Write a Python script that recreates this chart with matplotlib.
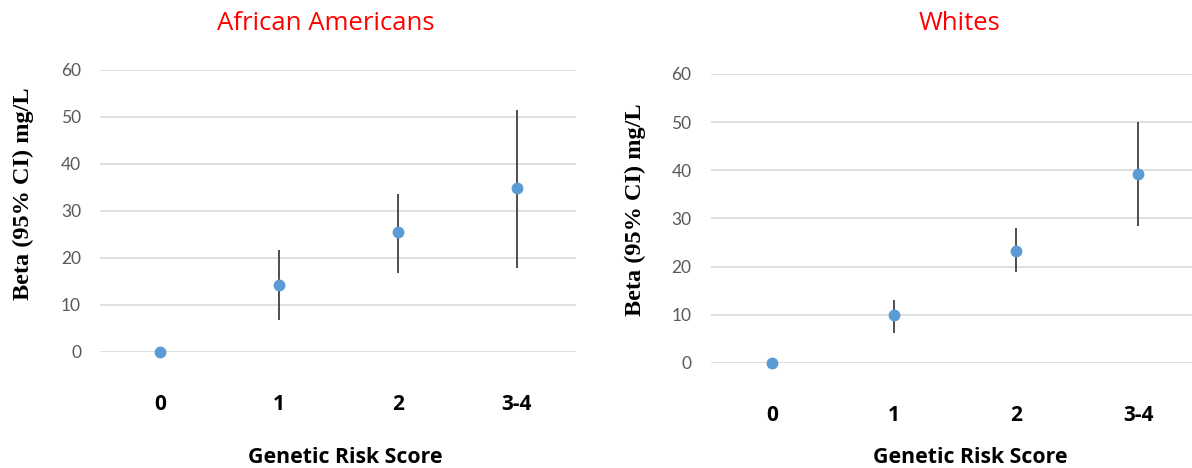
import matplotlib
matplotlib.use("Agg")
import matplotlib.pyplot as plt

categories = ['0', '1', '2', '3-4']

aa_beta = [0.0, 14.3, 25.5, 34.8]
aa_low = [0.0, 6.7, 16.9, 17.8]
aa_high = [0.0, 21.6, 33.6, 51.5]

wh_beta = [0.0, 10.0, 23.3, 39.3]
wh_low = [0.0, 6.3, 18.8, 28.5]
wh_high = [0.0, 13.1, 28.0, 50.0]

yticks = [0, 10, 20, 30, 40, 50, 60]

fig = plt.figure(figsize=(11.92, 4.68), dpi=100)


def panel(rect, beta, low, high, title, xmax, title_x, xlab_x):
    ax = fig.add_axes(rect)
    xs = [i + 0.5 for i in range(len(categories))]
    for s in ax.spines.values():
        s.set_visible(False)
    for t in yticks:
        ax.axhline(t, color='#d9d9d9', lw=1.2, zorder=0)
    ax.vlines(xs, low, high, color='#404040', lw=1.3, zorder=2)
    ax.plot(xs, beta, 'o', color='#5b9bd5', ms=7.5, zorder=3, clip_on=False)
    ax.set_xlim(0, xmax)
    ax.set_ylim(0, 60)
    ax.set_yticks(yticks)
    ax.set_yticklabels([str(t) for t in yticks], family='Lato', fontsize=12.5, color='#595959')
    ax.tick_params(axis='y', length=0, pad=14)
    ax.set_xticks(xs)
    ax.set_xticklabels(categories, family='Open Sans', fontsize=15, fontweight='bold', color='black')
    ax.tick_params(axis='x', length=0, pad=30)
    fig.text(title_x, 0.95, title, color='#ff0000', fontsize=18.5, family='Open Sans',
             ha='center', va='center')
    fig.text(xlab_x, 0.022, 'Genetic Risk Score', fontsize=15.3, fontweight='bold',
             family='Open Sans', ha='center', va='center')
    return ax


ax1 = panel([0.0843, 0.2479, 0.3993, 0.6026], aa_beta, aa_low, aa_high,
            'African Americans', 4.0, 0.273, 0.29)
ax2 = panel([0.5965, 0.2244, 0.4035, 0.6175], wh_beta, wh_low, wh_high,
            'Whites', 3.94, 0.805, 0.814)

fig.text(0.02, 0.586, 'Beta (95% CI) mg/L', rotation=90, family='Liberation Serif',
         fontweight='bold', fontsize=17.5, ha='center', va='center')
fig.text(0.533, 0.553, 'Beta (95% CI) mg/L', rotation=90, family='Liberation Serif',
         fontweight='bold', fontsize=17.5, ha='center', va='center')

fig.savefig('out.png', dpi=100)
